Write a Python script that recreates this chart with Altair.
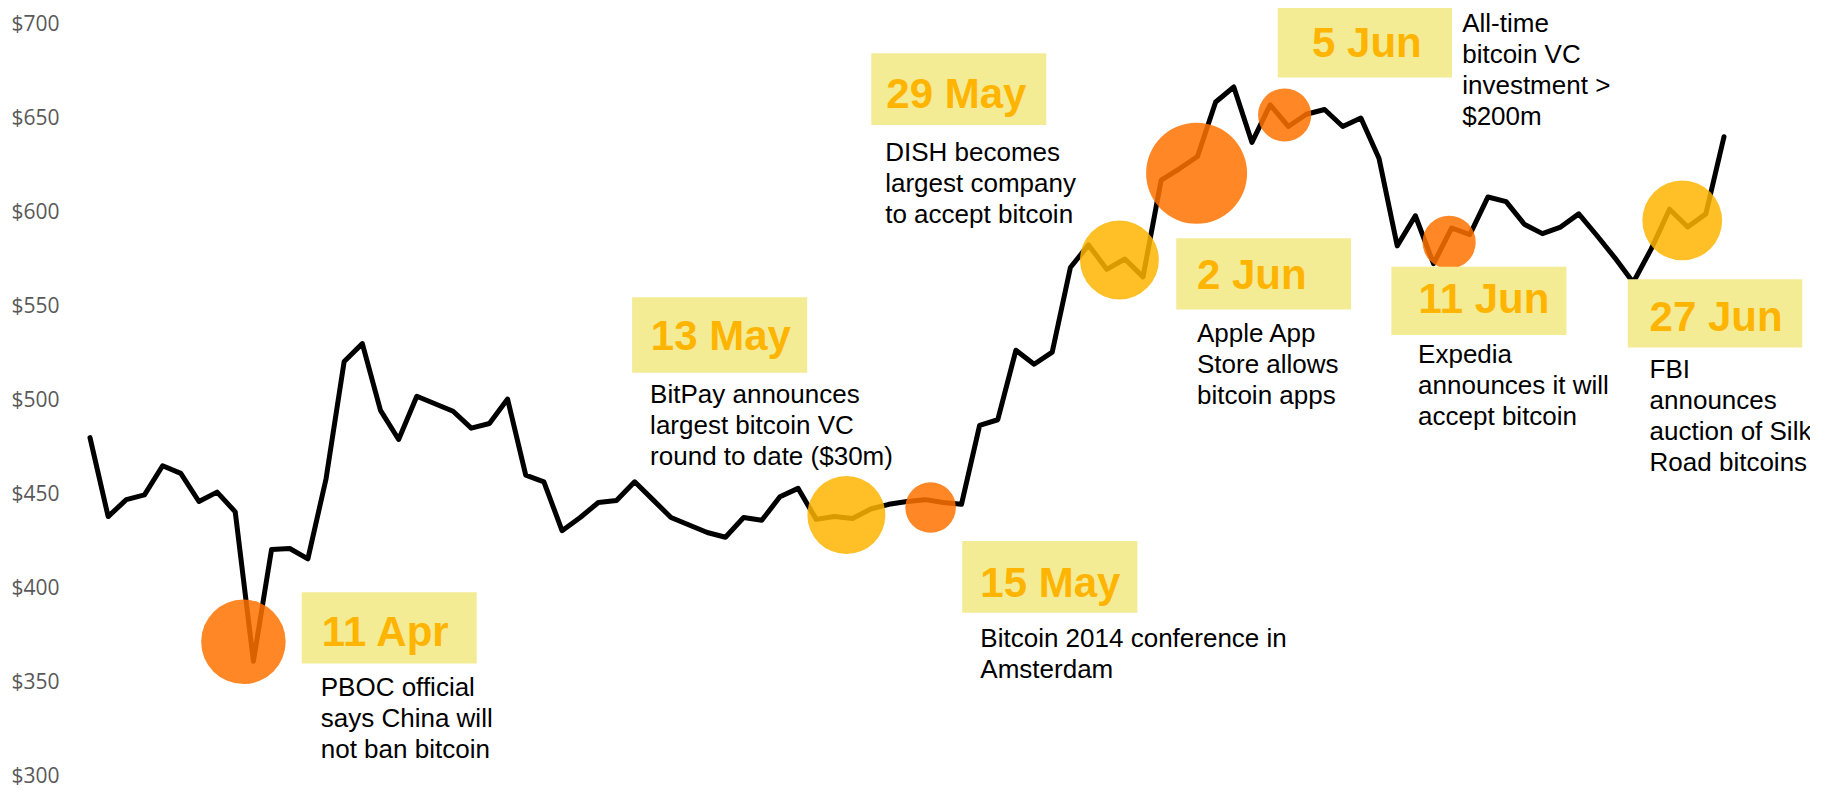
import altair as alt
import pandas as pd

# ---------------- data ----------------
START = pd.Timestamp("2014-04-02")

# daily bitcoin price (USD), 2 Apr 2014 -> 1 Jul 2014
prices = [
    480, 438, 447, 449.5, 465, 461, 446, 451, 440.5, 361,
    420.5, 421, 415.5, 458, 520.5, 530, 494.5, 479, 502, 498,
    494, 485, 487.5, 500.5, 460, 456.5, 430.5, 437.5, 445.5, 446.5,
    456.5, 447, 437.5, 433.5, 429.5, 427, 437.5, 436, 448.5, 453,
    436.5, 438, 437, 442, 444.5, 446, 447, 445.5, 444.5, 486.5,
    489.5, 526.5, 519, 525.5, 570.5, 582.5, 569.5, 575, 565.5, 617,
    623, 629.5, 658.5, 666.5, 637, 657, 645.5, 652, 654.5, 645.5,
    650, 628.5, 582, 598, 572.5, 591.5, 588, 608, 605.5, 593.5,
    588.5, 592, 599, 587.5, 575.5, 562.5, 580.5, 601.5, 592, 599,
    640,
]

# events
event_labels = ["11 Apr", "13 May", "15 May", "29 May", "2 Jun", "5 Jun", "11 Jun", "27 Jun"]
event_texts = [
    "PBOC official\nsays China will\nnot ban bitcoin",
    "BitPay announces\nlargest bitcoin VC\nround to date ($30m)",
    "Bitcoin 2014 conference in\nAmsterdam",
    "DISH becomes\nlargest company\nto accept bitcoin",
    "Apple App\nStore allows\nbitcoin apps",
    "All-time\nbitcoin VC\ninvestment >\n$200m",
    "Expedia\nannounces it will\naccept bitcoin",
    "FBI\nannounces\nauction of Silk\nRoad bitcoins",
]
event_tone = ["orange", "gold", "orange", "gold", "orange", "orange", "orange", "gold"]

# bubble anchors (day offset from 2 Apr, price) and radius
bubble_day = [8.45, 41.66, 46.3, 56.7, 60.95, 65.8, 74.86, 87.7]
bubble_price = [371.4, 438.8, 442.8, 574.5, 620.6, 651.6, 583.9, 595.5]
bubble_radius = [47.7, 44, 28.5, 44.5, 57, 30, 30, 45]

# label boxes (day range, price range)
box_day0 = [11.66, 29.86, 48.04, 43.03, 59.83, 65.42, 71.68, 84.70]
box_day1 = [21.30, 39.50, 57.69, 52.67, 69.46, 75.02, 81.32, 94.31]
box_top = [397.7, 554.6, 425.0, 684.4, 586.0, 708.5, 570.9, 564.2]
box_bottom = [359.8, 514.5, 386.9, 646.3, 548.2, 671.6, 534.6, 527.9]

# date label anchors (left edge day, baseline price)
label_day = [12.77, 30.89, 49.04, 43.86, 60.97, 67.31, 73.18, 85.90]
label_price = [369.1, 526.6, 395.4, 655.3, 558.9, 682.6, 546.1, 536.9]

# description anchors (left edge day, first baseline price)
desc_day = [12.71, 30.85, 49.04, 43.80, 60.97, 75.58, 73.15, 85.90]
desc_price = [342.6, 498.2, 368.4, 627.3, 530.9, 695.6, 519.7, 511.5]

y_ticks = [300, 350, 400, 450, 500, 550, 600, 650, 700]


def iso(day):
    return (START + pd.to_timedelta(day, unit="D")).strftime("%Y-%m-%dT%H:%M:%S")


price_df = pd.DataFrame({
    "date": [iso(i) for i in range(len(prices))],
    "price": prices,
})
bubble_df = pd.DataFrame({
    "event": event_labels,
    "date": [iso(d) for d in bubble_day],
    "price": bubble_price,
    "tone": event_tone,
    "area": [3.14159 * r * r for r in bubble_radius],
})
box_df = pd.DataFrame({
    "event": event_labels,
    "date": [iso(d) for d in box_day0],
    "d1": [iso(d) for d in box_day1],
    "price": box_top,
    "p1": box_bottom,
})
label_df = pd.DataFrame({
    "event": event_labels,
    "date": [iso(d) for d in label_day],
    "price": label_price,
})
desc_df = pd.DataFrame({
    "event": event_labels,
    "text": event_texts,
    "date": [iso(d) for d in desc_day],
    "price": desc_price,
})

# ---------------- scales / axes ----------------
xscale = alt.Scale(
    domain=[alt.DateTime(year=2014, month=4, date=2), alt.DateTime(year=2014, month=7, date=1)],
    nice=False,
)
yscale = alt.Scale(domain=[300, 700], nice=False, zero=False)
yaxis = alt.Axis(
    values=y_ticks, format="$.0f", title=None, labelAlign="left", labelPadding=79,
    ticks=False, domain=False, grid=False, labelFont="Open Sans", labelFontSize=21,
    labelColor="#595959", labelBaseline="middle",
)
X = alt.X("date:T", scale=xscale, axis=None, title=None)
Y = alt.Y("price:Q", scale=yscale, axis=yaxis, title=None)

line = alt.Chart(price_df).mark_line(
    color="black", strokeWidth=5, strokeJoin="round", strokeCap="round"
).encode(x=X, y=Y)

bubbles = alt.Chart(bubble_df).mark_circle(opacity=0.85).encode(
    x=X,
    y=Y,
    size=alt.Size("area:Q", scale=None, legend=None),
    color=alt.Color("tone:N", scale=alt.Scale(domain=["orange", "gold"], range=["#FF7200", "#FFB400"]), legend=None),
)

boxes = alt.Chart(box_df).mark_rect(color="#F4EB95").encode(
    x=X,
    x2="d1:T",
    y=Y,
    y2="p1:Q",
)

labels = alt.Chart(label_df).mark_text(
    align="left", baseline="alphabetic", font="Liberation Sans", fontWeight="bold",
    fontSize=42, color="#FFB400",
).encode(x=X, y=Y, text="event:N")

descs = alt.Chart(desc_df).mark_text(
    align="left", baseline="alphabetic", font="Liberation Sans", fontSize=26,
    lineHeight=31, lineBreak="\n", color="#000000",
).encode(x=X, y=Y, text="text:N")

chart = alt.layer(line, bubbles, boxes, labels, descs).properties(
    width=1634,
    height=752,
    autosize=alt.AutoSizeParams(type="none"),
    padding={"left": 82, "top": 16, "right": 86, "bottom": 12},
    background="white",
).configure_view(stroke=None)

chart.save("out.html", embed_options={"renderer": "svg", "actions": False})
